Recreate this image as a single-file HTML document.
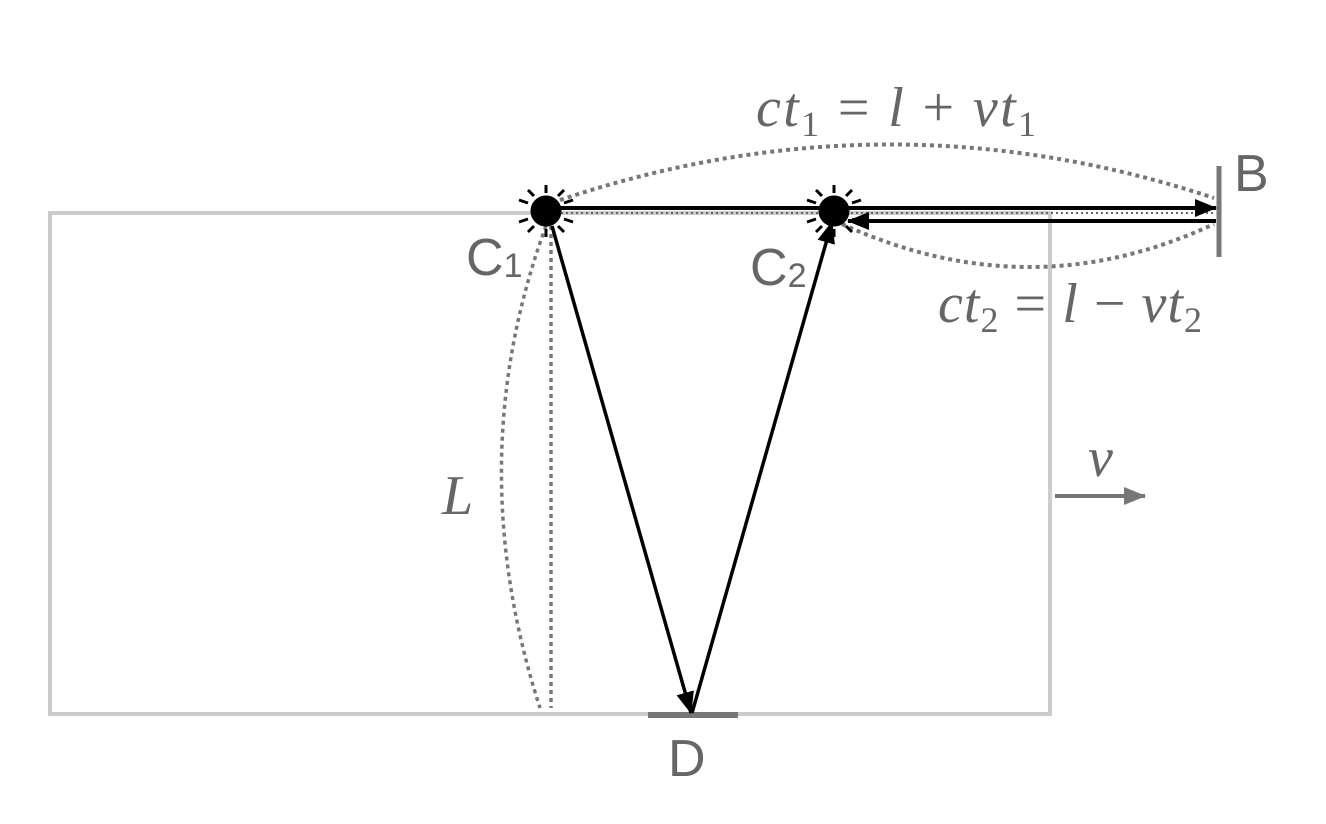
<!DOCTYPE html>
<html><head><meta charset="utf-8"><style>html,body{margin:0;padding:0;background:#fff}svg{display:block}</style></head>
<body>
<svg width="1326" height="824" viewBox="0 0 1326 824" xmlns="http://www.w3.org/2000/svg">
<defs>
<marker id="ab2" markerWidth="22" markerHeight="18" refX="21" refY="9" orient="auto" markerUnits="userSpaceOnUse" viewBox="0 0 22 18"><path d="M0,0 L22,9 L0,18 Z" fill="#000"/></marker>
<marker id="ag" markerWidth="22" markerHeight="18" refX="21" refY="9" orient="auto" markerUnits="userSpaceOnUse" viewBox="0 0 22 18"><path d="M0,0 L22,9 L0,18 Z" fill="#777"/></marker>
</defs>
<rect x="50" y="213" width="1000" height="501" fill="none" stroke="#ccc" stroke-width="4"/>
<line x1="546" y1="213" x2="1216" y2="213" stroke="#666" stroke-width="2" stroke-dasharray="2,3"/>
<path d="M560,200 Q888,90 1214,198" fill="none" stroke="#777" stroke-width="4" stroke-dasharray="4,4"/>
<path d="M842,224 Q1030,310 1214,224" fill="none" stroke="#777" stroke-width="4" stroke-dasharray="4,4"/>
<path d="M546,226 Q460,460 540,708" fill="none" stroke="#777" stroke-width="3.5" stroke-dasharray="4,4"/>
<line x1="551" y1="226" x2="551" y2="708" stroke="#777" stroke-width="3.5" stroke-dasharray="4,4"/>
<line x1="1219" y1="166" x2="1219" y2="257" stroke="#777" stroke-width="5"/>
<line x1="648" y1="715" x2="738" y2="715" stroke="#777" stroke-width="6"/>
<line x1="560" y1="208" x2="1216" y2="208" stroke="#000" stroke-width="4" marker-end="url(#ab2)"/>
<line x1="1216" y1="221" x2="848" y2="221" stroke="#000" stroke-width="4" marker-end="url(#ab2)"/>
<line x1="552" y1="226" x2="691" y2="713" stroke="#000" stroke-width="3.5" marker-end="url(#ab2)"/>
<line x1="692" y1="713" x2="832" y2="222" stroke="#000" stroke-width="3.5" marker-end="url(#ab2)"/>
<line x1="1055" y1="496" x2="1145" y2="496" stroke="#777" stroke-width="4" marker-end="url(#ag)"/>
<g stroke="#000" stroke-width="3">
<g transform="translate(546,211)"><circle r="14" fill="#000"/>
<line x1="0" y1="-18" x2="0" y2="-26"/><line x1="0" y1="18" x2="0" y2="26"/>
<line x1="-18" y1="-8" x2="-27" y2="-11"/><line x1="18" y1="-8" x2="27" y2="-11"/>
<line x1="-18" y1="8" x2="-27" y2="11"/><line x1="18" y1="8" x2="27" y2="11"/>
<line x1="-12" y1="-15" x2="-18" y2="-21"/><line x1="12" y1="-15" x2="18" y2="-21"/>
<line x1="-12" y1="15" x2="-18" y2="21"/><line x1="12" y1="15" x2="18" y2="21"/></g>
<g transform="translate(834,211)"><circle r="14" fill="#000"/>
<line x1="0" y1="-18" x2="0" y2="-26"/><line x1="0" y1="18" x2="0" y2="26"/>
<line x1="-18" y1="-8" x2="-27" y2="-11"/><line x1="18" y1="-8" x2="27" y2="-11"/>
<line x1="-18" y1="8" x2="-27" y2="11"/><line x1="18" y1="8" x2="27" y2="11"/>
<line x1="-12" y1="-15" x2="-18" y2="-21"/><line x1="12" y1="-15" x2="18" y2="-21"/>
<line x1="-12" y1="15" x2="-18" y2="21"/><line x1="12" y1="15" x2="18" y2="21"/></g>
</g>
<g fill="#666" font-family="Liberation Sans, sans-serif" font-size="52">
<text x="466" y="275">C<tspan font-size="34" dy="2">1</tspan></text>
<text x="750" y="285">C<tspan font-size="34" dy="2">2</tspan></text>
<text x="1234" y="191">B</text>
<text x="668" y="776">D</text>
</g>
<g fill="#666" font-family="Liberation Serif, serif" font-size="56" font-style="italic">
<text x="756" y="126" textLength="280" lengthAdjust="spacing">ct<tspan font-style="normal" font-size="36" dy="10">1</tspan><tspan dy="-10" font-style="normal"> = </tspan>l<tspan font-style="normal"> + </tspan>vt<tspan font-style="normal" font-size="36" dy="10">1</tspan></text>
<text x="938" y="322" textLength="264" lengthAdjust="spacing">ct<tspan font-style="normal" font-size="36" dy="10">2</tspan><tspan dy="-10" font-style="normal"> = </tspan>l<tspan font-style="normal"> − </tspan>vt<tspan font-style="normal" font-size="36" dy="10">2</tspan></text>
<text x="442" y="514">L</text>
<text x="1088" y="476">v</text>
</g>
</svg>
</body></html>
